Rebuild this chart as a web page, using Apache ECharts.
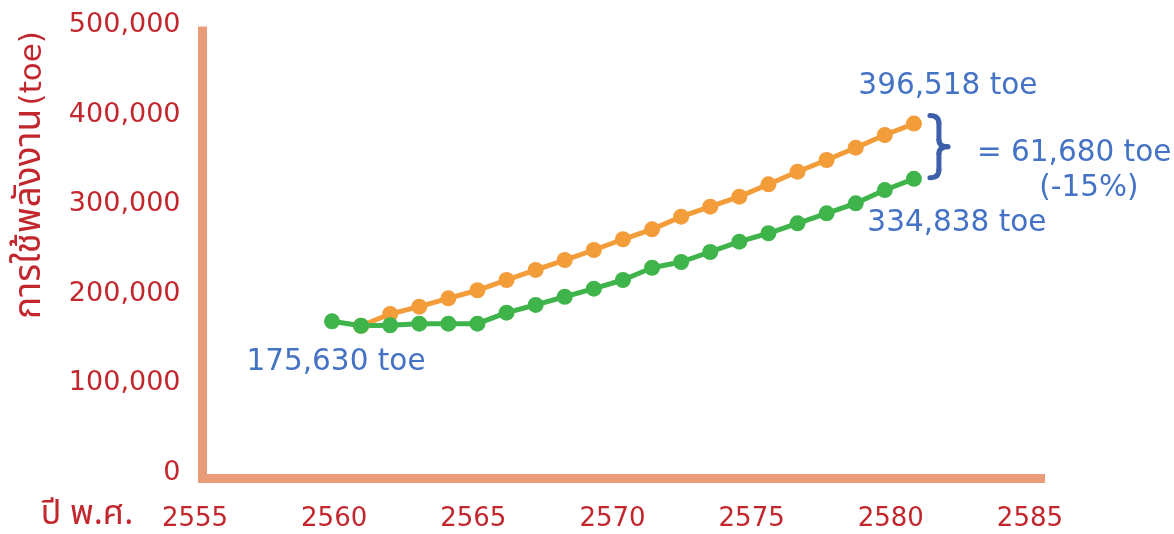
<!DOCTYPE html>
<html>
<head>
<meta charset="utf-8">
<script src="https://cdn.jsdelivr.net/npm/echarts@6/dist/echarts.min.js"></script>
<style>
  html, body { margin: 0; padding: 0; background: #ffffff; }
  #chart { width: 1174px; height: 534px; }
</style>
</head>
<body>
<div id="chart"></div>
<script>
// Energy consumption (toe) by Buddhist-era year
const years = [2560, 2561, 2562, 2563, 2564, 2565, 2566, 2567, 2568, 2569, 2570,
               2571, 2572, 2573, 2574, 2575, 2576, 2577, 2578, 2579, 2580];
// business-as-usual path (starts one year later, sharing the 2561 value)
const baseline = [null, 170700, 183800, 192000, 201300, 210300, 221800, 233000, 244100, 255300, 267300,
                  278400, 292500, 303700, 314900, 328700, 342800, 355900, 369600, 383800, 396518];
// path with energy-saving measures
const saving = [175630, 170700, 171200, 173000, 173000, 173000, 185300, 193900, 203100, 212100, 221800,
                235500, 241900, 253100, 264600, 274000, 285100, 296300, 307500, 322300, 334838];
const yearTicks = [2555, 2560, 2565, 2570, 2575, 2580, 2585];
const valueTicks = [0, 100000, 200000, 300000, 400000, 500000];

const yTitleThai = 'การใช้พลังงาน';
const yTitleUnit = '(toe)';
const xTitle = 'ปี พ.ศ.';
const pctText = '(-15%)';

const RED = '#C3272E';
const BLUE = '#4472C4';
const BRACE = '#3D5FAA';
const AXIS = '#EA9B7A';
const ORANGE = '#F39D3A';
const GREEN = '#3FB44B';
const FONT = '"DejaVu Sans", "Noto Sans", sans-serif';
const THAI = '"Noto Sans Thai", "Noto Sans Thai Looped", Loma, Garuda, "Tlwg Typo", "DejaVu Sans", "Noto Sans", sans-serif';

const fmt = v => v.toLocaleString('en-US');

const chart = echarts.init(document.getElementById('chart'), null, { renderer: 'canvas' });

chart.setOption({
  animation: false,
  backgroundColor: '#ffffff',
  grid: { left: 202.5, right: 133.5, top: 31, bottom: 55.5, containLabel: false },
  xAxis: [
    {
      // scale the points are plotted on
      type: 'value', min: 2555.55, max: 2584.35, position: 'bottom', show: false
    },
    {
      // year axis with its labels
      type: 'value', min: yearTicks[0], max: 2585.11, position: 'bottom',
      axisLine: { show: true, onZero: false, lineStyle: { color: AXIS, width: 9, cap: 'square' } },
      axisTick: { show: false },
      splitLine: { show: false },
      axisLabel: {
        customValues: yearTicks,
        showMinLabel: true, showMaxLabel: true,
        color: RED, fontSize: 26, fontFamily: FONT, margin: 28,
        padding: [0, 15, 0, 0],
        formatter: v => String(v)
      }
    }
  ],
  yAxis: {
    type: 'value', min: valueTicks[0], max: valueTicks[valueTicks.length - 1], interval: 100000,
    axisLine: { show: true, onZero: false, lineStyle: { color: AXIS, width: 9, cap: 'square' } },
    axisTick: { show: false },
    splitLine: { show: false },
    axisLabel: {
      color: RED, fontSize: 27, fontFamily: FONT, margin: 22,
      verticalAlign: 'bottom', lineHeight: 12,
      formatter: v => fmt(v)
    }
  },
  series: [
    {
      name: 'baseline', type: 'line', xAxisIndex: 0, yAxisIndex: 0,
      data: years.map((y, i) => [y, baseline[i]]),
      symbol: 'circle', symbolSize: 16, showSymbol: true,
      lineStyle: { color: ORANGE, width: 5 },
      itemStyle: { color: ORANGE },
      emphasis: { disabled: true }, connectNulls: false
    },
    {
      name: 'saving', type: 'line', xAxisIndex: 0, yAxisIndex: 0,
      data: years.map((y, i) => [y, saving[i]]),
      symbol: 'circle', symbolSize: 16, showSymbol: true,
      lineStyle: { color: GREEN, width: 5 },
      itemStyle: { color: GREEN },
      emphasis: { disabled: true }
    }
  ]
});

// annotations anchored to the plotted points
const toPx = (y, v) => chart.convertToPixel({ xAxisIndex: 0, yAxisIndex: 0 }, [y, v]);
const last = years.length - 1;
const pStart = toPx(years[0], saving[0]);
const pTop = toPx(years[last], baseline[last]);
const pBot = toPx(years[last], saving[last]);
const midY = (pTop[1] + pBot[1]) / 2;
const diff = baseline[last] - saving[last];

const txt = (x, y, text, opts) => ({
  type: 'text', x: x, y: y, silent: true,
  style: Object.assign({ text: text, fill: BLUE, font: '29.5px ' + FONT, align: 'center', verticalAlign: 'middle' }, opts || {})
});

const bx0 = pTop[0] + 16, bx1 = pTop[0] + 25, bx2 = pTop[0] + 34;
const bTop = pTop[1] - 8, bBot = pBot[1] - 1, bMid = (bTop + bBot) / 2;
const braceStyle = { stroke: BRACE, lineWidth: 5, lineCap: 'round', fill: null };
const quad = (x1, y1, cx, cy, x2, y2) => ({ type: 'bezierCurve', silent: true, shape: { x1, y1, x2, y2, cpx1: cx, cpy1: cy }, style: braceStyle });
const seg = (x1, y1, x2, y2) => ({ type: 'line', silent: true, shape: { x1, y1, x2, y2 }, style: braceStyle });

chart.setOption({
  graphic: [
    txt(pStart[0] + 4, pStart[1] + 41, fmt(saving[0]) + ' toe'),
    txt(pTop[0] + 34, pTop[1] - 37, fmt(baseline[last]) + ' toe'),
    txt(pBot[0] + 43, pBot[1] + 45, fmt(saving[last]) + ' toe'),
    txt(pTop[0] + 63, midY + 2, '= ' + fmt(diff) + ' toe', { align: 'left' }),
    txt(pTop[0] + 175, midY + 37, pctText),
    quad(bx0, bTop, bx1, bTop, bx1, bTop + 8),
    seg(bx1, bTop + 8, bx1, bMid - 7),
    quad(bx1, bMid - 7, bx1, bMid, bx2, bMid),
    quad(bx2, bMid, bx1, bMid, bx1, bMid + 7),
    seg(bx1, bMid + 7, bx1, bBot - 8),
    quad(bx1, bBot - 8, bx1, bBot, bx0, bBot),
    {
      type: 'text', x: 33, y: 175, rotation: Math.PI / 2, silent: true,
      style: {
        text: '{th|' + yTitleThai + '} {en|' + yTitleUnit + '}',
        fill: RED, align: 'center', verticalAlign: 'middle',
        rich: {
          th: { fill: RED, font: '37px ' + THAI },
          en: { fill: RED, font: '31px ' + FONT }
        }
      }
    },
    {
      type: 'text', x: 87, y: 517, silent: true,
      style: { text: xTitle, fill: RED, font: '34px ' + THAI, align: 'center', verticalAlign: 'middle' }
    }
  ]
});
</script>
</body>
</html>
